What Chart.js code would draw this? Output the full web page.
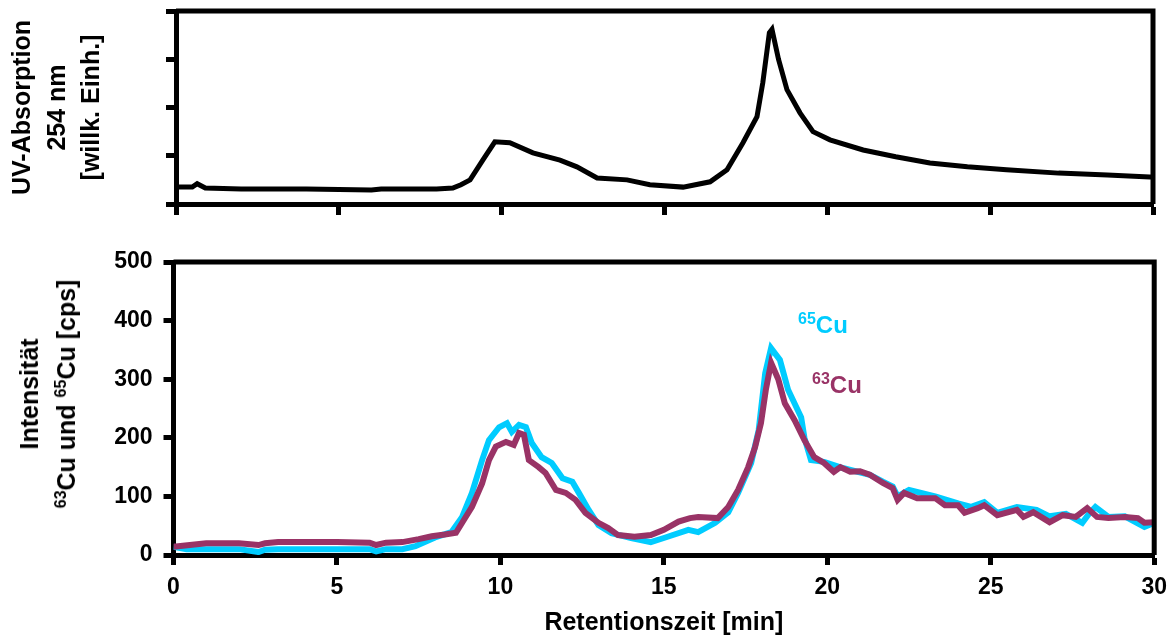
<!DOCTYPE html>
<html>
<head>
<meta charset="utf-8">
<script src="https://cdn.jsdelivr.net/npm/chart.js@4"></script>
<style>
  body { margin: 0; background: #fff; font-family: 'Liberation Sans', Arial, sans-serif; }
  #wrap { position: relative; width: 1176px; height: 642px; }
  canvas { position: absolute; left: 0; }
  #uvChart { top: 0; }
  #cuChart { top: 232px; }
  .lbl { position: absolute; font-weight: bold; font-size: 24px; line-height: 24px; white-space: nowrap; }
  .lbl sup { font-size: 16px; line-height: 0; vertical-align: 9px; }
  #yTitle { position: absolute; left: 48px; top: 394px; transform: translate(-50%, -50%) rotate(-90deg);
    font-weight: bold; font-size: 25px; line-height: 37px; text-align: center; white-space: nowrap; }
  #yTitle sup { font-size: 16px; line-height: 0; vertical-align: 9px; }
</style>
</head>
<body>
<div id="wrap">
  <canvas id="uvChart" width="1176" height="232"></canvas>
  <canvas id="cuChart" width="1176" height="410"></canvas>
  <div id="yTitle">Intensität<br><sup>63</sup>Cu und <sup>65</sup>Cu [cps]</div>
  <div class="lbl" style="left:798px; top:313px; color:#00ccff;"><sup>65</sup>Cu</div>
  <div class="lbl" style="left:812px; top:373px; color:#993366;"><sup>63</sup>Cu</div>
</div>
<script>
// UV trace (arbitrary units)
const uvTime = [0, 0.5, 0.65, 0.9, 2, 4, 6, 6.3, 7, 8, 8.5, 8.75, 9.03, 9.43, 9.79, 10.25, 10.96, 11.79,
  12.31, 12.93, 13.85, 14.55, 15.57, 16.4, 16.92, 17.41, 17.84, 18.02, 18.22, 18.3, 18.5, 18.76, 19.16,
  19.56, 20.08, 21.1, 22.1, 23.15, 24.3, 25.5, 27.1, 28.6, 29.9, 30];
const uvValue = [0.35, 0.35, 0.42, 0.33, 0.31, 0.31, 0.29, 0.31, 0.31, 0.31, 0.33, 0.40, 0.50, 0.92, 1.29,
  1.27, 1.06, 0.91, 0.77, 0.54, 0.50, 0.40, 0.35, 0.46, 0.71, 1.27, 1.81, 2.52, 3.55, 3.62, 3.0, 2.37, 1.89,
  1.50, 1.33, 1.12, 0.98, 0.85, 0.77, 0.71, 0.64, 0.60, 0.56, 0.56];

// 63Cu
const cu63Time = [0, 0.5, 1, 2, 2.6, 2.8, 3.2, 4, 5, 6, 6.2, 6.5, 7, 7.5, 7.9, 8.3, 8.64, 8.83, 9.13, 9.44,
  9.65, 9.86, 10.17, 10.41, 10.57, 10.72, 10.87, 11.17, 11.38, 11.7, 12.0, 12.3, 12.6, 13.0, 13.3, 13.6, 14.1,
  14.6, 15.0, 15.45, 15.8, 16.05, 16.65, 16.97, 17.27, 17.58, 17.79, 17.97, 18.12, 18.28, 18.5, 18.7, 19.0,
  19.3, 19.6, 19.9, 20.2, 20.4, 20.7, 21.0, 21.3, 21.7, 22.0, 22.15, 22.35, 22.75, 23.3, 23.6, 24.0, 24.2,
  24.6, 24.8, 25.2, 25.8, 26.0, 26.3, 26.8, 27.2, 27.6, 27.95, 28.25, 28.6, 29.1, 29.5, 29.7, 30];
const cu63Value = [14, 17, 20, 20, 17, 20, 22, 22, 22, 21, 17, 21, 22, 27, 32, 35, 38, 55, 82, 122,
  162, 185, 193, 188, 208, 205, 162, 150, 140, 111, 106, 94, 72, 55, 46, 34, 31,
  34, 43, 57, 63, 65, 63, 82, 111, 150, 184, 225, 282, 328, 300, 259, 230,
  196, 167, 157, 142, 150, 142, 143, 137, 123, 114, 94, 106, 97, 97, 85, 85, 72,
  80, 85, 68, 77, 65, 73, 56, 68, 65, 80, 65, 63, 65, 63, 55, 56];

// 65Cu
const cu65Time = [0, 0.4, 1, 2, 2.6, 2.8, 3.2, 4, 5, 6, 6.2, 6.5, 7, 7.4, 8.0, 8.5, 8.83, 9.13, 9.44, 9.65,
  9.96, 10.2, 10.35, 10.57, 10.78, 10.96, 11.26, 11.57, 11.9, 12.2, 12.4, 12.7, 13.0, 13.4, 14.0, 14.6, 15.0,
  15.75, 16.05, 16.57, 16.97, 17.27, 17.67, 17.9, 18.1, 18.28, 18.55, 18.8, 19.2, 19.3, 19.5, 19.9, 20.5,
  21.3, 21.7, 22.0, 22.15, 22.5, 23.3, 24.0, 24.4, 24.8, 25.2, 25.8, 26.4, 26.8, 27.3, 27.8, 28.0, 28.2,
  28.6, 29.1, 29.7, 30];
const cu65Value = [14, 10, 10, 10, 5, 9, 10, 10, 10, 10, 6, 10, 10, 15, 30, 39, 65, 106, 162, 196,
  218, 225, 210, 222, 218, 191, 167, 157, 131, 125, 106, 77, 51, 37, 29, 22, 29,
  43, 39, 55, 73, 106, 157, 213, 310, 353, 333, 282, 235, 200, 162, 159, 148,
  137, 125, 117, 100, 111, 100, 88, 82, 90, 72, 82, 77, 66, 70, 55, 70, 82,
  65, 66, 48, 55];

const xTickStep = 5;
const cuTickStep = 100;

Chart.defaults.font.family = "'Liberation Sans', Arial, sans-serif";
Chart.defaults.font.weight = 'bold';
Chart.defaults.color = '#000';

function toPoints(xs, ys) {
  return xs.map((x, i) => ({ x: x, y: ys[i] }));
}

// top and right frame lines
const framePlugin = {
  id: 'frame',
  afterDatasetsDraw(chart) {
    const { ctx, chartArea: a } = chart;
    ctx.save();
    ctx.strokeStyle = '#000';
    ctx.lineWidth = 5;
    ctx.beginPath();
    ctx.moveTo(a.left, a.top);
    ctx.lineTo(a.right, a.top);
    ctx.lineTo(a.right, a.bottom);
    ctx.stroke();
    ctx.restore();
  }
};

const axisLook = {
  border: { color: '#000', width: 5 },
  grid: { drawOnChartArea: false, tickLength: 10, tickWidth: 5, tickColor: '#000' }
};

new Chart(document.getElementById('uvChart'), {
  type: 'line',
  data: {
    datasets: [{
      data: toPoints(uvTime, uvValue),
      borderColor: '#000',
      borderWidth: 5,
      pointRadius: 0,
      tension: 0
    }]
  },
  options: {
    responsive: false,
    animation: false,
    layout: { padding: { top: 11, right: 23, left: 0, bottom: 0 } },
    plugins: { legend: { display: false }, tooltip: { enabled: false } },
    scales: {
      x: {
        type: 'linear', min: 0, max: 30,
        ticks: { stepSize: xTickStep, callback: () => '' },
        ...axisLook,
        grid: { ...axisLook.grid, tickLength: 11 },
        afterFit(s) { s.height = 28; }
      },
      y: {
        min: 0, max: 4,
        ticks: { stepSize: 1, callback: () => '' },
        ...axisLook,
        title: {
          display: true,
          text: ['UV-Absorption', '254 nm', '[willk. Einh.]'],
          font: { size: 25, weight: 'bold', lineHeight: 1.38 },
          padding: { top: 6, bottom: 0 }
        },
        afterFit(s) { s.width = 176; }
      }
    }
  },
  plugins: [framePlugin]
});

new Chart(document.getElementById('cuChart'), {
  type: 'line',
  data: {
    datasets: [{
      label: '63Cu',
      data: toPoints(cu63Time, cu63Value),
      borderColor: '#993366',
      borderWidth: 6,
      pointRadius: 0,
      tension: 0,
      order: 0
    }, {
      label: '65Cu',
      data: toPoints(cu65Time, cu65Value),
      borderColor: '#00ccff',
      borderWidth: 6,
      pointRadius: 0,
      tension: 0,
      order: 1
    }]
  },
  options: {
    responsive: false,
    animation: false,
    layout: { padding: { top: 30, right: 19, left: 0, bottom: 0 } },
    plugins: { legend: { display: false }, tooltip: { enabled: false } },
    scales: {
      x: {
        type: 'linear', min: 0, max: 30,
        ticks: { stepSize: xTickStep, font: { size: 23, weight: 'bold' }, padding: 9 },
        ...axisLook,
        title: {
          display: true,
          text: 'Retentionszeit [min]',
          font: { size: 25, weight: 'bold' },
          padding: { top: 0, bottom: 4 }
        },
        afterFit(s) { s.height = 87; }
      },
      y: {
        min: 0, max: 500,
        ticks: { stepSize: cuTickStep, font: { size: 23, weight: 'bold' }, padding: 11 },
        ...axisLook,
        afterFit(s) { s.width = 173.5; }
      }
    }
  },
  plugins: [framePlugin]
});
</script>
</body>
</html>
